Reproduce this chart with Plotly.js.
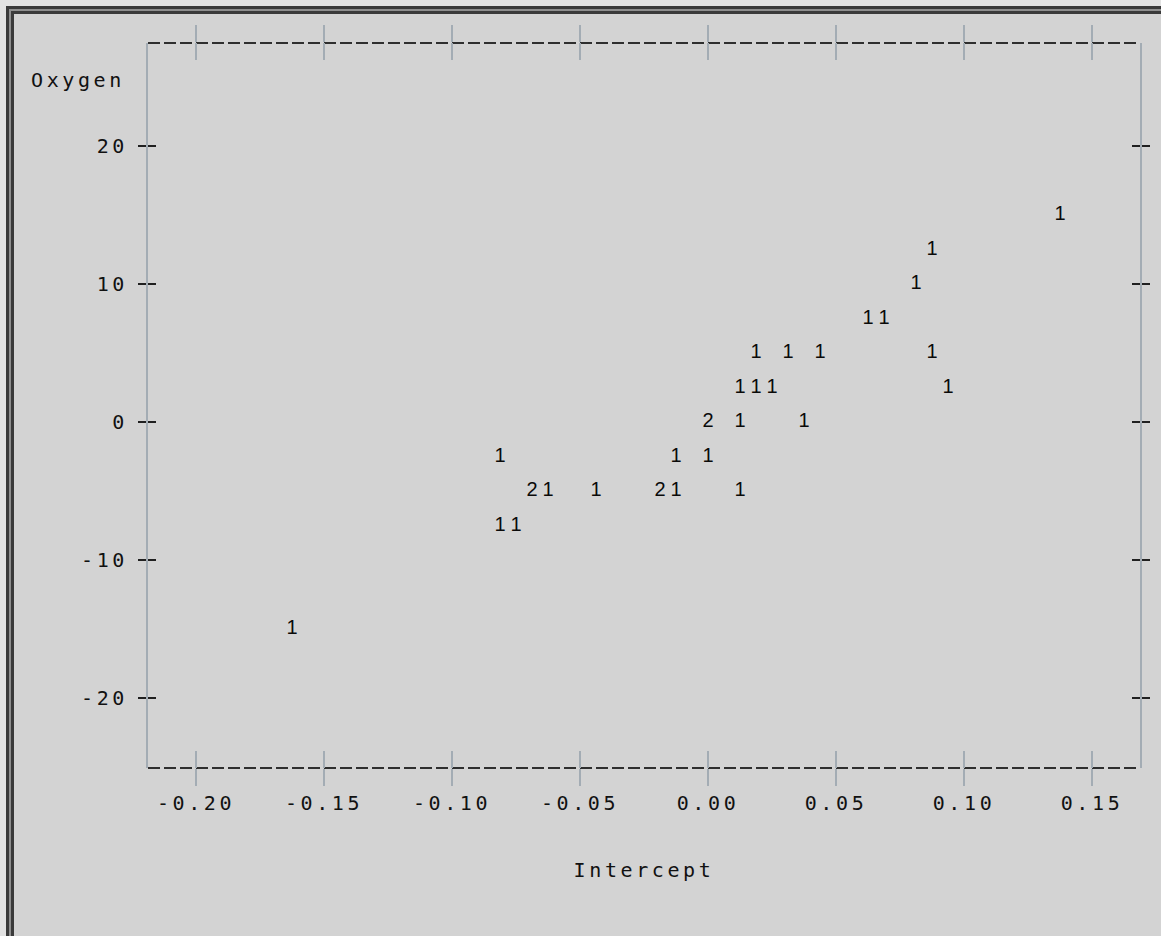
<!DOCTYPE html>
<html>
<head>
<meta charset="utf-8">
<script src="https://cdn.plot.ly/plotly-3.0.1.min.js"></script>
<style>
  html, body { margin: 0; padding: 0; background: #d3d3d3; overflow: hidden; }
  #wrap { position: relative; width: 1161px; height: 936px; }
  #chart { position: absolute; left: 0; top: 0; width: 1161px; height: 936px; }
  .frame { position: absolute; pointer-events: none; }
  .xtick text, .ytick text, .g-xtitle text, .annotation-text { letter-spacing: 3.6px; }
</style>
</head>
<body>
<div id="wrap">
  <div id="chart"></div>
  <div class="frame" style="left:0;top:0;width:1161px;height:6px;background:#e2e2e2;"></div>
  <div class="frame" style="left:0;top:0;width:6px;height:936px;background:#e2e2e2;"></div>
  <div class="frame" style="left:6px;top:6px;width:1155px;height:930px;border-top:3px solid #3a3a3a;border-left:3px solid #3a3a3a;"></div>
  <div class="frame" style="left:9px;top:9px;width:1152px;height:927px;border-top:2px solid #8e8e8e;border-left:2px solid #8e8e8e;"></div>
  <div class="frame" style="left:11px;top:11px;width:1150px;height:925px;border-top:3px solid #3a3a3a;border-left:3px solid #3a3a3a;"></div>
</div>
<script>
// Data (each character cell of the line-printer plot)
const intercept = [0.1375, 0.0875, 0.08125, 0.0625, 0.06875,
  0.01875, 0.03125, 0.04375, 0.0875,
  0.0125, 0.01875, 0.025, 0.09375,
  0, 0.0125, 0.0375,
  -0.08125, -0.0125, 0,
  -0.06875, -0.0625, -0.04375, -0.01875, -0.0125, 0.0125,
  -0.08125, -0.075,
  -0.1625];
const oxygen = [15, 12.5, 10, 7.5, 7.5,
  5, 5, 5, 5,
  2.5, 2.5, 2.5, 2.5,
  0, 0, 0,
  -2.5, -2.5, -2.5,
  -5, -5, -5, -5, -5, -5,
  -7.5, -7.5,
  -15];
const counts = [1, 1, 1, 1, 1,
  1, 1, 1, 1,
  1, 1, 1, 1,
  2, 1, 1,
  1, 1, 1,
  2, 1, 1, 2, 1, 1,
  1, 1,
  1];

const xTickVals = [-0.20, -0.15, -0.10, -0.05, 0.00, 0.05, 0.10, 0.15];
const xTickText = ["-0.20", "-0.15", "-0.10", "-0.05", "0.00", "0.05", "0.10", "0.15"];
const yTickVals = [-20, -10, 0, 10, 20];
const yTickText = ["-20", "-10", "0", "10", "20"];
const xTitle = "Intercept";
const yTitle = "Oxygen";

const xRange = [-0.21875, 0.16875];
const yRange = [-25.072, 27.464];

const monoFont = { family: "DejaVu Sans Mono", size: 20, color: "#111111" };
const axisGray = "#a3acb4";

const traces = [
  {
    type: "scatter", mode: "text",
    x: intercept, y: oxygen,
    text: counts.map(String),
    textposition: "middle center",
    textfont: { family: "Liberation Sans", size: 20, color: "#0a0a0a" },
    hoverinfo: "skip", showlegend: false, cliponaxis: false
  },
  { type: "scatter", mode: "markers", x: [], y: [], xaxis: "x2", yaxis: "y2", showlegend: false, hoverinfo: "skip" }
];

const layout = {
  width: 1161, height: 936,
  margin: { l: 148, r: 21, t: 43, b: 168, pad: 0 },
  paper_bgcolor: "#d3d3d3", plot_bgcolor: "#d3d3d3",
  showlegend: false,
  xaxis: {
    range: xRange, tickmode: "array", tickvals: xTickVals, ticktext: xTickText,
    ticks: "outside", ticklen: 17, tickwidth: 2, tickcolor: axisGray, mirror: "ticks",
    showline: false, showgrid: false, zeroline: false,
    tickfont: monoFont, ticklabelstandoff: 0,
    title: { text: xTitle, font: monoFont, standoff: 48 },
    fixedrange: true, automargin: false
  },
  xaxis2: {
    overlaying: "x", range: xRange, tickmode: "array", tickvals: xTickVals,
    ticks: "inside", ticklen: 17, tickwidth: 2, tickcolor: axisGray, mirror: "ticks",
    showticklabels: false, showline: false, showgrid: false, zeroline: false, fixedrange: true
  },
  yaxis: {
    range: yRange, tickmode: "array", tickvals: yTickVals, ticktext: yTickText,
    ticks: "outside", ticklen: 8, tickwidth: 2, tickcolor: "#202020", mirror: "ticks",
    showline: true, linecolor: axisGray, linewidth: 2,
    showgrid: false, zeroline: false,
    tickfont: monoFont, ticklabelstandoff: 6,
    fixedrange: true, automargin: false
  },
  yaxis2: {
    overlaying: "y", range: yRange, tickmode: "array", tickvals: yTickVals,
    ticks: "inside", ticklen: 8, tickwidth: 2, tickcolor: "#202020", mirror: "ticks",
    showticklabels: false, showline: false, showgrid: false, zeroline: false, fixedrange: true
  },
  shapes: [
    { type: "line", xref: "paper", yref: "paper", x0: 0, x1: 1, y0: 1, y1: 1,
      line: { color: "#2e2e2e", width: 2, dash: "12px,4px" }, layer: "below" },
    { type: "line", xref: "paper", yref: "paper", x0: 0, x1: 1, y0: 0, y1: 0,
      line: { color: "#2e2e2e", width: 2, dash: "12px,4px" }, layer: "below" }
  ],
  annotations: [
    { text: yTitle, xref: "paper", yref: "paper", x: 0, y: 1, xanchor: "right", yanchor: "middle",
      xshift: -21, yshift: -37, showarrow: false, font: monoFont }
  ]
};

Plotly.newPlot("chart", traces, layout, { staticPlot: true, displayModeBar: false });
</script>
</body>
</html>
